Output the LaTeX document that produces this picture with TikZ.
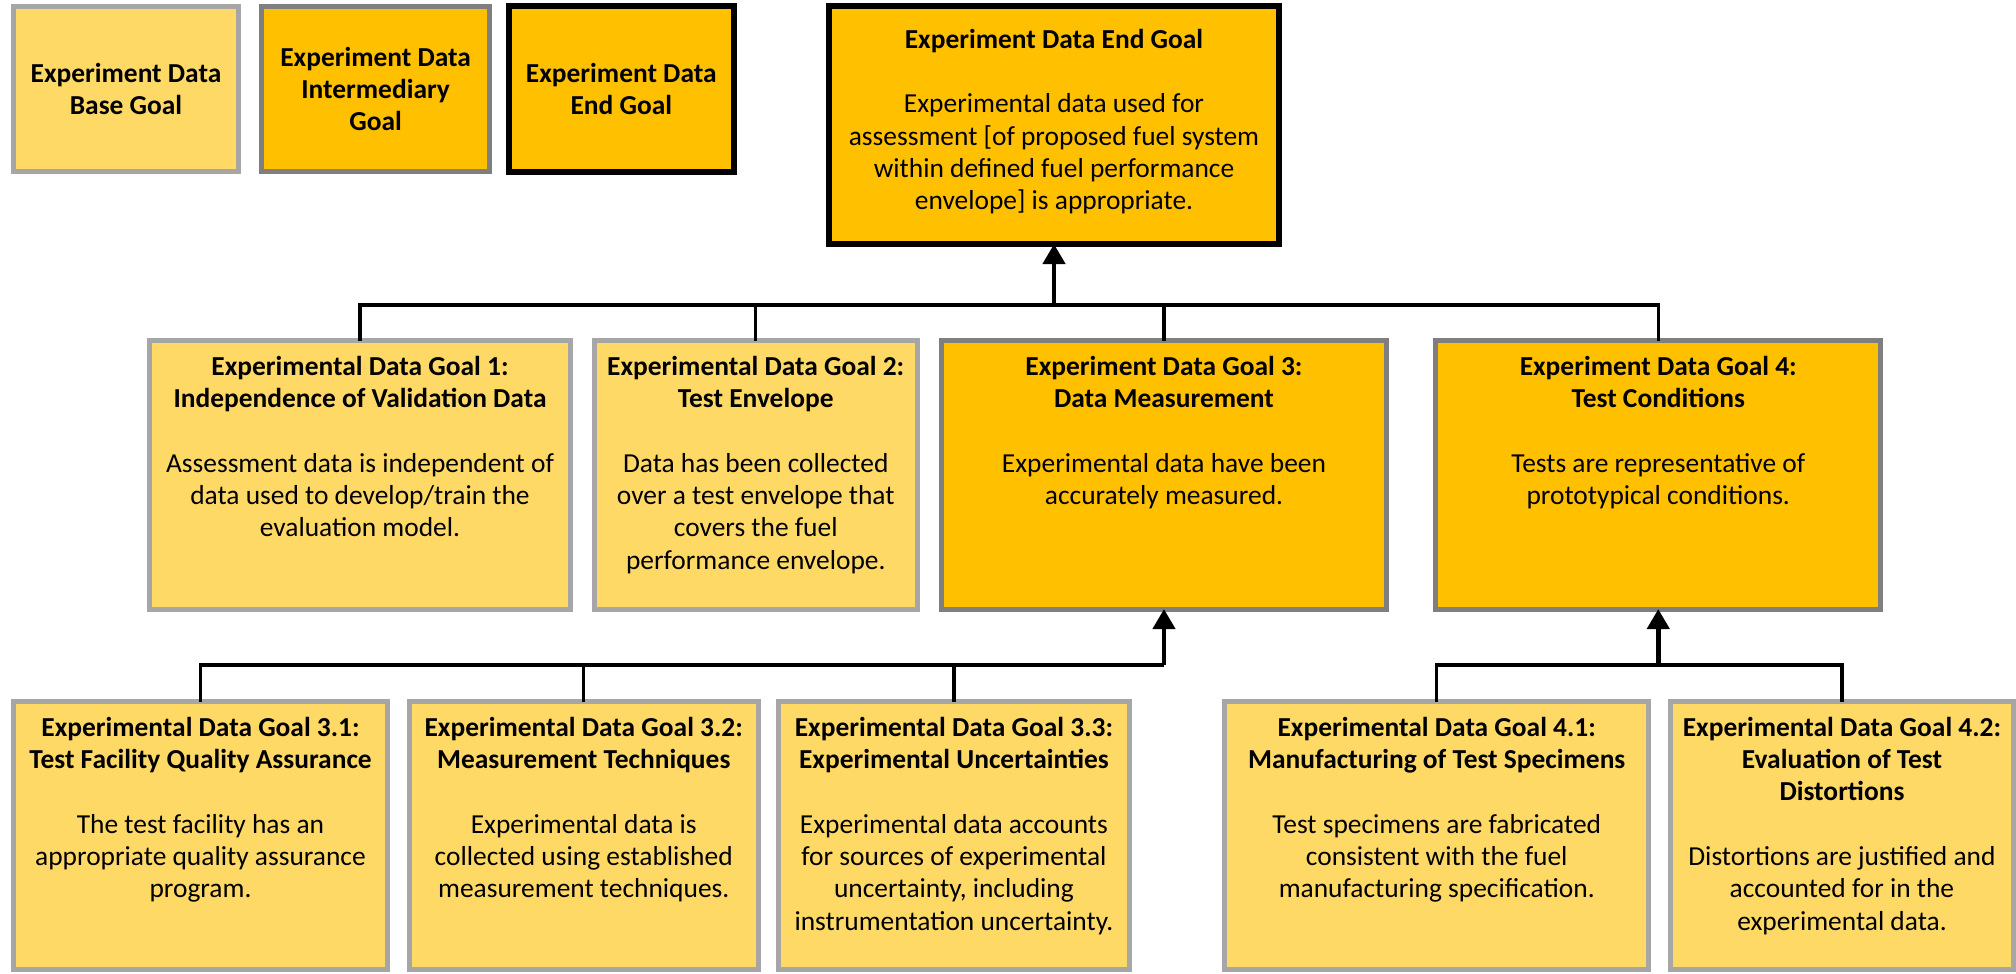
\documentclass[tikz,border=0pt]{standalone}
\usepackage{fontspec}
\setmainfont{Carlito}
\usetikzlibrary{positioning,arrows.meta}

\definecolor{goldlight}{HTML}{FFD966}
\definecolor{golddark}{HTML}{FFC000}
\definecolor{greylight}{HTML}{A6A6A6}
\definecolor{greydark}{HTML}{7F7F7F}

% box text: bold title, blank line, then the statement, from the top
\newcommand{\goaltext}[4]{%
  \begin{minipage}[t][#2][t]{#1}\centering
  \vspace*{0.15cm}\textbf{#3}\par\vspace{\baselineskip}#4%
  \end{minipage}}

\tikzset{
  goalbox/.style={rectangle, outer sep=0pt, inner sep=0pt, align=center,
    font=\fontsize{7.8}{9.2}\selectfont},
  basebox/.style={goalbox, fill=goldlight, draw=greylight, line width=1.4pt},
  midbox/.style={goalbox, fill=golddark, draw=greydark, line width=1.4pt},
  endbox/.style={goalbox, fill=golddark, draw=black, line width=1.7pt},
  link/.style={draw=black, line width=0.9pt},
  uplink/.style={link, line width=1.3pt, -{Triangle[length=0.20cm,width=0.22cm]}},
}

\begin{document}
\begin{tikzpicture}[x=0.01cm, y=-0.01cm]

  \useasboundingbox (0,0) rectangle (2016,973);
  \fill [white] (0,0) rectangle (2016,973);

  % legend
  \node (L1) [basebox, minimum width=2.25cm, minimum height=1.65cm] at (126,89)
    {\textbf{Experiment Data}\\\textbf{Base Goal}};
  \node (L2) [midbox, minimum width=2.28cm, minimum height=1.65cm, right=0.23cm of L1]
    {\textbf{Experiment Data}\\\textbf{Intermediary}\\\textbf{Goal}};
  \node (L3) [endbox, minimum width=2.25cm, minimum height=1.65cm, right=0.19cm of L2]
    {\textbf{Experiment Data}\\\textbf{End Goal}};

  % end goal
  \node (G0) [endbox, inner ysep=0.08cm] at (1054,125)
    {\goaltext{4.50cm}{2.22cm}{Experiment Data End Goal}
      {Experimental data used for\\assessment [of proposed fuel system\\within defined fuel performance\\envelope] is appropriate.}};

  % goals 1-4
  \node (G1) [basebox] at (360,475)
    {\goaltext{4.20cm}{2.68cm}{Experimental Data Goal 1:\\Independence of Validation Data}
      {Assessment data is independent of\\data used to develop/train the\\evaluation model.}};
  \node (G2) [basebox, right=0.24cm of G1]
    {\goaltext{3.23cm}{2.68cm}{Experimental Data Goal 2:\\Test Envelope}
      {Data has been collected\\over a test envelope that\\covers the fuel\\performance envelope.}};
  \node (G3) [midbox, right=0.24cm of G2]
    {\goaltext{4.45cm}{2.68cm}{Experiment Data Goal 3:\\Data Measurement}
      {Experimental data have been\\accurately measured.}};
  \node (G4) [midbox, right=0.49cm of G3]
    {\goaltext{4.45cm}{2.68cm}{Experiment Data Goal 4:\\Test Conditions}
      {Tests are representative of\\prototypical conditions.}};

  % sub goals
  \node (G31) [basebox] at (200.5,835.5)
    {\goaltext{3.73cm}{2.67cm}{Experimental Data Goal 3.1:\\Test Facility Quality Assurance}
      {The test facility has an\\appropriate quality assurance\\program.}};
  \node (G32) [basebox, right=0.22cm of G31]
    {\goaltext{3.49cm}{2.67cm}{Experimental Data Goal 3.2:\\Measurement Techniques}
      {Experimental data is\\collected using established\\measurement techniques.}};
  \node (G33) [basebox, right=0.20cm of G32]
    {\goaltext{3.51cm}{2.67cm}{Experimental Data Goal 3.3:\\Experimental Uncertainties}
      {Experimental data accounts\\for sources of experimental\\uncertainty, including\\instrumentation uncertainty.}};
  \node (G41) [basebox, right=0.95cm of G33]
    {\goaltext{4.24cm}{2.67cm}{Experimental Data Goal 4.1:\\Manufacturing of Test Specimens}
      {Test specimens are fabricated\\consistent with the fuel\\manufacturing specification.}};
  \node (G42) [basebox, right=0.22cm of G41]
    {\goaltext{3.42cm}{2.67cm}{Experimental Data Goal 4.2:\\Evaluation of Test\\Distortions}
      {Distortions are justified and\\accounted for in the\\experimental data.}};

  \coordinate (J0) at (G0.south |- 0,305);
  \coordinate (J3) at (G3.south |- 0,665);
  \coordinate (J4) at (G4.south |- 0,665);

  \foreach \n in {G1,G2,G3,G4} \draw [link] (\n.north) |- (J0);
  \draw [uplink] (J0) -- (G0);
  \foreach \n in {G31,G32,G33} \draw [link] (\n.north) |- (J3);
  \draw [uplink] (J3) -- (G3);
  \foreach \n in {G41,G42} \draw [link] (\n.north) |- (J4);
  \draw [uplink] (J4) -- (G4);

\end{tikzpicture}
\end{document}
